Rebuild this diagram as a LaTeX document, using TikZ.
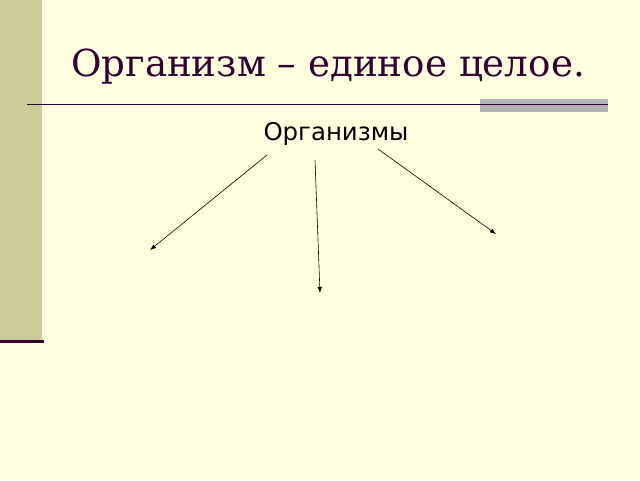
\documentclass[tikz,border=0pt]{standalone}
\usepackage{fontspec}
\setmainfont{DejaVu Serif}
\setsansfont{DejaVu Sans}
\usepackage{tikz}
\usetikzlibrary{arrows.meta}
\definecolor{slidebg}{HTML}{FFFFE0}
\definecolor{bandcol}{HTML}{CCCC99}
\definecolor{plum}{HTML}{330033}
\definecolor{barcol}{HTML}{B2B2B2}

\begin{document}
\begin{tikzpicture}[x=1pt, y=-1pt, every node/.style={inner sep=0pt}, arr/.style={-{Latex[length=6pt,width=4.5pt]}, line width=0.6pt}]
\fill[slidebg] (0,0) rectangle (640,480);
\useasboundingbox (0,0) rectangle (640,480);
\fill[bandcol] (0,0) rectangle (42,340);
\fill[plum] (0,340) rectangle (44,343);
\fill[barcol] (480,99) rectangle (608,112);
\draw[plum, line width=1.2pt] (27,104.5) -- (608,104.5);
\node[anchor=base west, text=plum, font=\fontsize{37.2}{42}\selectfont] (title) at (71,76) {Организм – единое целое.};
\node[anchor=base, font=\sffamily\fontsize{24.4}{29}\selectfont] (org) at (336,140) {Организмы};
\coordinate (a) at (150,250);
\coordinate (b) at (320,293);
\coordinate (c) at (496,234);
\draw[arr] (267,155) -- (a);
\draw[arr] (315,160) -- (b);
\draw[arr] (378,149) -- (c);
\end{tikzpicture}
\end{document}
